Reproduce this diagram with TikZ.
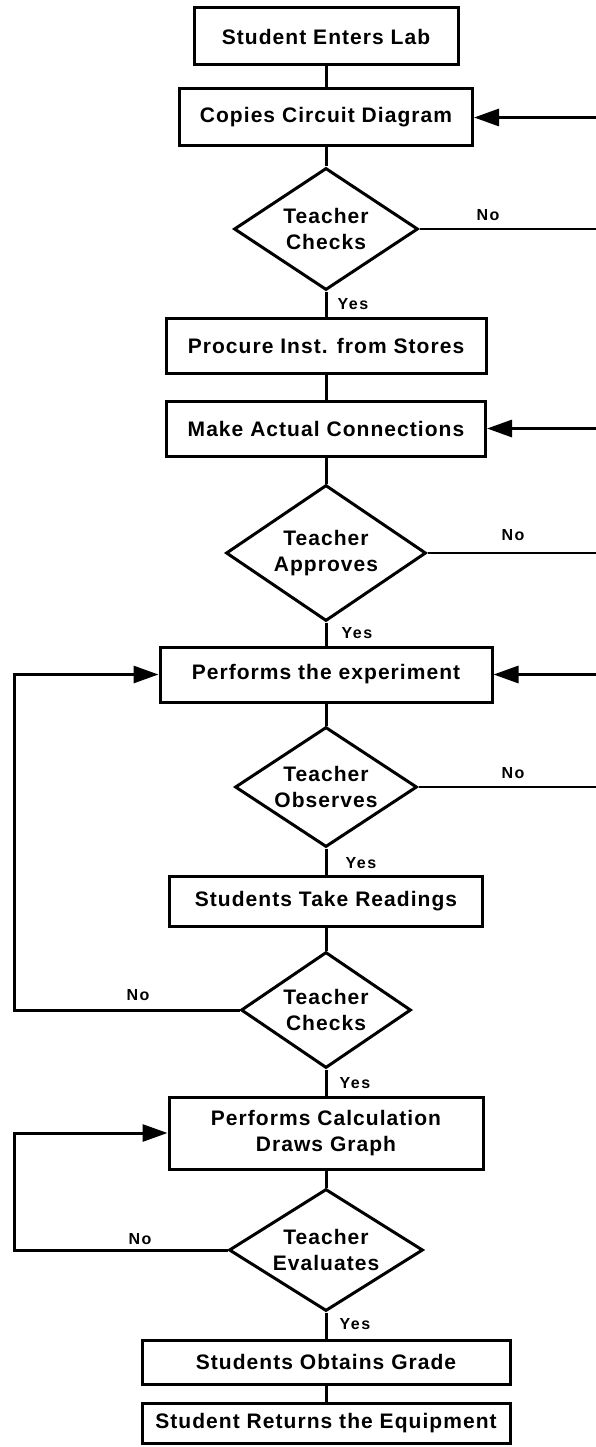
\documentclass[tikz,border=0pt]{standalone}
\usepackage{fontspec}
\newfontfamily\diagfont[LetterSpace=5]{Liberation Sans}
\newfontfamily\labfont[LetterSpace=10]{Liberation Sans}
\usetikzlibrary{shapes.geometric,arrows.meta}
\begin{document}
\begin{tikzpicture}[x=1pt,y=-1pt,
  txt/.style={font=\diagfont\bfseries\fontsize{21}{26}\selectfont},
  box/.style={txt, draw, line width=3pt, rectangle, inner sep=0pt, align=center},
  dec/.style={txt, draw, line width=3pt, diamond, inner sep=0pt, shape aspect=1.5, align=center},
  lab/.style={font=\labfont\bfseries\fontsize{16}{18}\selectfont, inner sep=0pt},
  conn/.style={line width=3pt},
  nol/.style={line width=2.2pt},
  arr/.style={line width=3pt, -{Triangle[length=25pt,width=17pt]}}
]
\useasboundingbox (0,0) rectangle (595,1447);
\fill[white] (0,0) rectangle (595,1447);

\node[box, minimum width=264pt, minimum height=57pt] (b1) at (326,36.5) {Student Enters Lab};
\node[box, minimum width=293pt, minimum height=57pt] (b2) at (326,117.5) {Copies Circuit Diagram};
\node[dec, minimum width=184pt, minimum height=122pt] (d1) at (326,229) {Teacher\\Checks};
\node[box, minimum width=320pt, minimum height=55pt] (b3) at (326,345.5) {Procure Inst. from Stores};
\node[box, minimum width=319pt, minimum height=55pt] (b4) at (326,428.5) {Make Actual Connections};
\node[dec, minimum width=200pt, minimum height=136pt] (d2) at (326,553) {Teacher\\Approves};
\node[box, minimum width=332pt, minimum height=55pt] (b5) at (326,674.5) {Performs the experiment};
\node[dec, minimum width=182pt, minimum height=120pt] (d3) at (326,787) {Teacher\\Observes};
\node[box, minimum width=313pt, minimum height=50pt] (b6) at (326,901) {Students Take Readings};
\node[dec, minimum width=170pt, minimum height=116pt] (d4) at (326,1010) {Teacher\\Checks};
\node[box, minimum width=314pt, minimum height=72pt] (b7) at (326,1133) {Performs Calculation\\Draws Graph};
\node[dec, minimum width=194pt, minimum height=122pt] (d5) at (326,1250) {Teacher\\Evaluates};
\node[box, minimum width=368pt, minimum height=44pt] (b8) at (326,1362) {Students Obtains Grade};
\node[box, minimum width=368pt, minimum height=40pt] (b9) at (326,1423) {Student Returns the Equipment};

% main line
\draw[conn] (b1) -- (b2);
\draw[conn] (b2) -- (d1);
\draw[conn] (d1) -- (b3);
\draw[conn] (b3) -- (b4);
\draw[conn] (b4) -- (d2);
\draw[conn] (d2) -- (b5);
\draw[conn] (b5) -- (d3);
\draw[conn] (d3) -- (b6);
\draw[conn] (b6) -- (d4);
\draw[conn] (d4) -- (b7);
\draw[conn] (b7) -- (d5);
\draw[conn] (d5) -- (b8);
\draw[conn] (b8) -- (b9);

% right side
\coordinate (r1) at (600,117.5);
\coordinate (n1) at (600,229);
\coordinate (r2) at (600,428.5);
\coordinate (n2) at (600,553);
\coordinate (r3) at (600,674.5);
\coordinate (n3) at (600,787);
\draw[arr] (r1) -- (b2.east);
\draw[nol] (d1.east) -- (n1);
\draw[arr] (r2) -- (b4.east);
\draw[nol] (d2.east) -- (n2);
\draw[arr] (r3) -- (b5.east);
\draw[nol] (d3.east) -- (n3);

% left loops
\coordinate (L) at (14,0);
\draw[arr] (d4.west) -- (d4.west -| L) |- (b5.west);
\draw[arr] (d5.west) -- (d5.west -| L) |- (b7.west);

% labels
\node[lab] (no1) at (488,215) {No};
\node[lab] (yes1) at (353,304) {Yes};
\node[lab] (no2) at (513,535) {No};
\node[lab] (yes2) at (357,633) {Yes};
\node[lab] (no3) at (513,773) {No};
\node[lab] (yes3) at (361,863) {Yes};
\node[lab] (no4) at (138,995) {No};
\node[lab] (yes4) at (355,1083) {Yes};
\node[lab] (no5) at (140,1239) {No};
\node[lab] (yes5) at (355,1324) {Yes};
\end{tikzpicture}
\end{document}
